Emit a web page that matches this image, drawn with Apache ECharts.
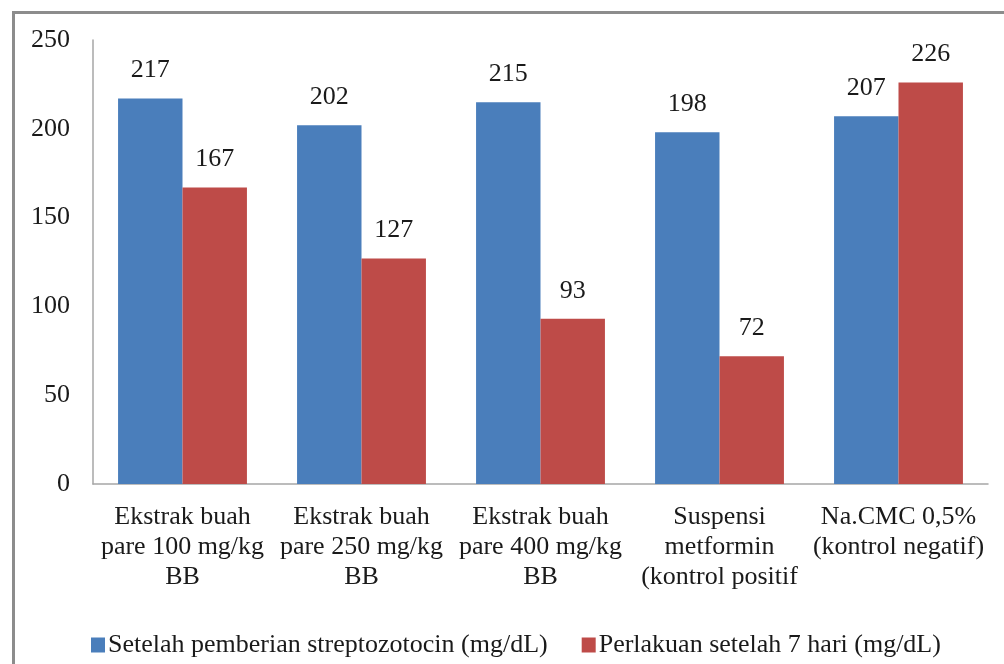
<!DOCTYPE html>
<html>
<head>
<meta charset="utf-8">
<script src="https://cdn.jsdelivr.net/npm/echarts@6/dist/echarts.min.js"></script>
<style>html,body{margin:0;padding:0;background:#fff;}#c{width:1004px;height:664px;}</style>
</head>
<body>
<div id="c"></div>
<script>
const categories = [
  "Ekstrak buah\npare 100 mg/kg\nBB",
  "Ekstrak buah\npare 250 mg/kg\nBB",
  "Ekstrak buah\npare 400 mg/kg\nBB",
  "Suspensi\nmetformin\n(kontrol positif",
  "Na.CMC 0,5%\n(kontrol negatif)"
];
const seriesNames = ["Setelah pemberian streptozotocin (mg/dL)", "Perlakuan setelah 7 hari (mg/dL)"];
const afterSTZ = [217, 202, 215, 198, 207];
const after7Days = [167, 127, 93, 72, 226];
const yTicks = { min: 0, max: 250, interval: 50 };

const font = "'Liberation Serif', 'Times New Roman', serif";
const chart = echarts.init(document.getElementById('c'), null, { renderer: 'canvas' });
chart.setOption({
  animation: false,
  backgroundColor: '#fff',
  graphic: [{
    type: 'rect', left: 11, top: 10, silent: true,
    shape: { width: 1100, height: 800 },
    style: { fill: 'none', stroke: '#8c8c8c', lineWidth: 3 }
  }],
  grid: { left: 93, right: 16, top: 40, bottom: 180, containLabel: false },
  legend: {
    left: 86, top: 627,
    itemWidth: 14, itemHeight: 15, itemGap: 34,
    icon: 'rect',
    textStyle: { fontFamily: font, fontSize: 26, color: '#1a1a1a', padding: [0, 0, 0, -2] },
    data: seriesNames
  },
  xAxis: {
    type: 'category', data: categories,
    axisLine: { lineStyle: { color: '#a6a6a6', width: 1.5 } },
    axisTick: { show: false },
    axisLabel: { fontFamily: font, fontSize: 26, color: '#1a1a1a', lineHeight: 30, margin: 18, interval: 0 }
  },
  yAxis: {
    type: 'value', min: yTicks.min, max: yTicks.max, interval: yTicks.interval,
    axisLine: { show: true, lineStyle: { color: '#a6a6a6', width: 1.5 } },
    axisTick: { show: false },
    splitLine: { show: false },
    axisLabel: { fontFamily: font, fontSize: 26, color: '#1a1a1a', margin: 23 }
  },
  series: [
    {
      name: seriesNames[0], type: 'bar', data: afterSTZ,
      barGap: '0%', barCategoryGap: '28%',
      itemStyle: { color: '#4a7ebb' },
      label: { show: true, position: 'top', distance: 15, fontFamily: font, fontSize: 26, color: '#1a1a1a' }
    },
    {
      name: seriesNames[1], type: 'bar', data: after7Days,
      barGap: '0%', barCategoryGap: '28%',
      itemStyle: { color: '#be4b48' },
      label: { show: true, position: 'top', distance: 15, fontFamily: font, fontSize: 26, color: '#1a1a1a' }
    }
  ]
});
</script>
</body>
</html>
